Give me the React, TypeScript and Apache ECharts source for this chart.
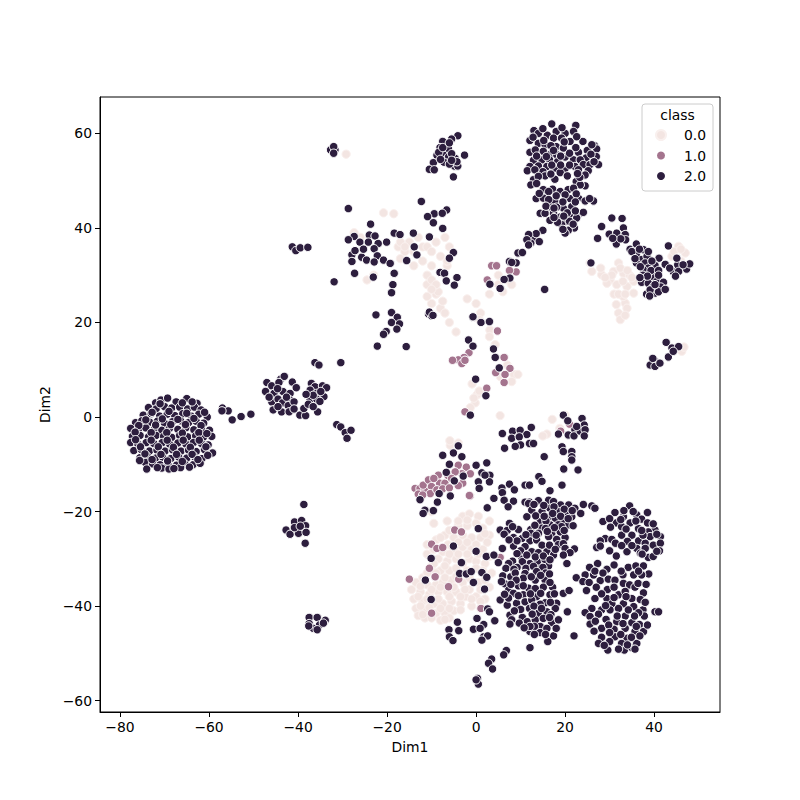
import React, { useEffect, useRef } from "react";
import * as echarts from "echarts";

const xTicks = [-80, -60, -40, -20, 0, 20, 40];
const yTicks = [-60, -40, -20, 0, 20, 40, 60];

const class0: [number, number][] = [
  [-29.2,55.6],[-20.8,43.2],[-18.5,43],[-27.4,39],[-26,38],[-17.5,36],[-16,35],[-17,33.5],[-15,37],[-13,38],[-12,36],[-14,32],[-9,37],[-7,38],[-6,36],[-6.5,32],[-8,30.5],[-12,33],[-11,28],[-9,26],[-10,24],[-8,23],[-6,20],[-8.5,26.5],[-11,25.5],[-23,30],[-24.5,29],[-6.5,33],[-4.5,18],[1,22],[-2,25],[0,24],
  [0.2,4.7],[-0.2,3],[-1.3,2],[-0.9,7],[0.7,5.5],[-0.5,4],[3.1,18.4],[3,17],[0.7,20.6],[4.3,15.3],[5,28],[6,26.5],[3,26],[7,29],[5,30],[8,28],
  [7,11],[8.5,9],[9.4,9],[8,7.5],[5.5,8.5],[5.4,0.3],[20,0.4],[17.1,-0.5],[15.9,-3.6],[18.8,-2.4],[15,-4],[-5.8,-6],[-5.9,-5],[-4,-5.5],
  [-3,-21],[-1.5,-20.5],[0.5,-21],[-6.5,-22],[-4,-23],[-2,-23],[1.5,-23.5],[3,-22],[-7,-25],[-5,-25.5],[-3,-25],[-1,-25.5],[1,-25.5],[3,-25],[-9,-26],[-11,-27],[-7.5,-28.5],[-5,-28],[-3,-27.5],[-1,-28],[1.5,-28],[-11,-29],[-8.5,-30],[-6.5,-30.5],[-4.5,-30],[-1.5,-30],[0,-30.5],[2,-31],[-10,-31.5],[-8,-32.5],[-6,-32.5],[-4.5,-32],[0,-32],[3.5,-33],[-12,-34],[-13.5,-35],[-11,-35.5],[-9,-35.5],[-7.5,-35],[-5.5,-34.5],[-3,-35],[-1.5,-36.5],[0.5,-35],[3,-36],[-14.5,-36.5],[-12.5,-37],[-10.5,-37.5],[-8.5,-37],[-6.5,-37],[-4.5,-37],[-2.5,-38],[0,-38],[2,-38.5],[-14,-38.5],[-12,-39],[-9.5,-39.5],[-7.5,-39.5],[-5.5,-39],[-3.5,-39.5],[-1,-40],[1,-40.5],[-13.5,-40.5],[-11.5,-41],[-9,-41.5],[-7,-41.5],[-5,-41],[-13,-42],[-11.5,-42.5],[-8,-43],[-6,-42.5],[-9.5,-22.5],[-10,-20],
  [-4,-22],[-2,-21.8],[0,-22.5],[2,-24.7],[-6,-24],[-8,-25.5],[-4,-26.5],[-2,-26.5],[0,-27],[2.5,-26.5],[-9.5,-28],[-6.3,-27],[-2,-29],[-6,-29],[-4,-29],[0.5,-29],[3,-29.5],[-9.5,-31],[-7,-31.5],[-3,-31],[-2,-32.5],[1.5,-32.5],[-11,-33],[-9,-33],[-7,-34],[-4.5,-33.8],[-1.5,-34],[2,-34.5],[-12.5,-35.8],[-10,-36.5],[-8,-36],[-5,-36],[-2.5,-36.5],[1,-36.5],[-13,-38],[-11,-38.5],[-8.5,-38.5],[-6,-38],[-3.5,-38],[-1,-38.5],[1,-39],[-12.5,-40],[-10.5,-40.3],[-8,-40.5],[-6,-40.5],[-3.5,-40.8],[-12,-41.8],[-10,-42.5],[-7,-42.8],
  [-17,37],[-16,36],[-14,35],[-11,36],[-10,35],[-8,34],[-10,32],[-11,30],[-10,29],[-9,28],[-7.5,24.5],[-7,22],[-10,27],
  [25.6,32.6],[26,30.8],[32,32.6],[30.1,29],[33.1,30.4],[33.9,27.6],[35.4,26.2],[31.6,28],[29.4,28.3],[33.5,24.1],[32,22],[32.4,20.6],[33.9,23],[45.5,36.1],[47,34.7],[28.2,30.1],[30.9,30.8],[32.4,31.5],[35.4,28.7],[46.2,13.9],[46.7,14.8],[34.5,30],[31,26],[33,25.5],[44,34],[46,33],
  [34,31],[35,29.5],[33,28.7],[30.5,30],[32,26],[33.5,26],[33.5,21.5],[31.5,23.8],[44.5,35],[46,35.5],[28,31.5],[29,29.5],
];

const class1: [number, number][] = [
  [3.5,32],[4.6,32],[9,30.7],[7.5,31],[2.5,29],
  [-1.6,13.6],[-2.7,12.6],[-4,12.1],[-5.3,12],[-3.2,11.3],[-2.5,12],[2.4,6.1],[-2.5,1.1],[4.8,18.2],[6.3,12.6],[7.6,10.3],[4.4,9.4],[6.3,7.3],[6.5,9],
  [-13.7,-15.1],[-12.6,-15.1],[-11.5,-15.4],[-11.9,-14.4],[-10.7,-13.3],[-10,-14.7],[-10.3,-16.2],[-8.5,-12.3],[-8.2,-14],[-8.8,-15.4],[-7,-14],[-6.3,-12.4],[-4,-10.2],[-2.2,-10.6],[-3.2,-12],[-1.3,-12],[-4.7,-11.6],[-1.3,-16.7],[-3,-14],[-13,-16.3],[-12,-16.5],[-9.5,-13],[-7.5,-15.2],[-5.5,-13],[-4,-14.5],[-6,-15],
  [-4.8,-23.9],[-3.3,-24.3],[-10,-26.9],[-8.8,-27.8],[-7.5,-27.6],[-10.5,-32],[-15,-34.3],[-9.2,-33.8],[-10,-41.5],[-1.5,-16.6],[-3.9,-34.3],[-6.2,-35.9],[1.1,-40.5],[5.4,-29.7],[21,-1.5],[19,-3],
];

const class2: [number, number][] = [
  // far-left cluster
  [-72,3],[-70.8,3.6],[-69.3,4],[-67.4,3.2],[-65,3.9],[-62.7,2.9],
  [-73.6,2],[-71.9,1.7],[-70,2.2],[-68.4,1.9],[-66.6,2.1],[-64.8,1.7],[-63.3,2.1],[-61.8,1.5],
  [-74.8,0.4],[-73,0.7],[-71.1,0.2],[-69.4,0.6],[-67.7,0.3],[-65.9,0.7],[-64,0.2],[-62.3,0.6],[-60.4,0],
  [-76.5,-1.2],[-75.1,-0.8],[-73.3,-1.1],[-71.6,-0.9],[-70,-1.3],[-68.2,-1],[-66.4,-0.8],[-64.6,-1.2],[-62.9,-0.9],[-61.2,-1.3],
  [-77.6,-2.4],[-75.9,-2.7],[-74.2,-2.3],[-72.3,-2.6],[-70.6,-2.8],[-68.9,-2.4],[-67,-2.6],[-65.2,-2.3],[-63.4,-2.7],[-61.7,-2.5],[-59.9,-2.8],
  [-77.2,-4.1],[-75.5,-3.9],[-73.6,-4.2],[-71.9,-3.9],[-70.2,-4.1],[-68.4,-4.3],[-66.6,-3.9],[-64.8,-4.2],[-63,-4],[-61.2,-4.2],[-59.4,-4.1],
  [-77.6,-5.4],[-76,-5.7],[-74.1,-5.4],[-72.4,-5.6],[-70.5,-5.4],[-68.8,-5.8],[-67,-5.5],[-65.2,-5.7],[-63.5,-5.4],[-61.7,-5.6],[-60.2,-5.9],
  [-76.9,-7.1],[-75.2,-6.9],[-73.4,-7.2],[-71.7,-7],[-69.9,-7.2],[-68.2,-6.9],[-66.3,-7.2],[-64.6,-7],[-62.9,-7.3],[-61,-6.9],[-59.2,-7.6],
  [-75.5,-8.6],[-73.8,-8.4],[-72,-8.7],[-70.4,-8.5],[-68.6,-8.8],[-66.8,-8.5],[-65,-8.7],[-63.3,-8.4],[-61.6,-8.8],
  [-74.3,-9.6],[-72.7,-9.9],[-71,-10.1],[-69.2,-10],[-67.3,-10.2],[-65.4,-10],[-63.6,-10.1],[-62,-9.8],
  [-74,-11],[-70.6,-10.8],[-69,-11],[-66.4,-10.7],
  [-71,2.8],[-66,3],[-63.8,3.2],[-72.8,1],[-69,1.2],[-65,0.8],[-61,1],[-74.2,-0.6],[-70.5,-0.4],[-67,-0.5],[-63.4,-0.3],[-75.8,-1.8],[-72,-1.7],[-68.6,-1.6],[-65.3,-1.6],[-61.8,-1.8],[-76.6,-3.2],[-73,-3.3],[-69.5,-3.3],[-66,-3.4],[-62.3,-3.3],[-60.5,-3.5],[-76.5,-4.8],[-73,-4.9],[-69.4,-4.9],[-65.8,-4.9],[-62.2,-4.9],[-75.4,-6.3],[-71.4,-6.3],[-68,-6.4],[-64.2,-6.4],[-60.7,-6.3],[-74.4,-7.8],[-70.8,-7.9],[-67.3,-7.9],[-63.8,-7.9],[-60.3,-8.1],[-72.8,-9],[-69.3,-9.3],[-66,-9.4],[-62.5,-9],[-75.6,-9.2],[-71.6,-10.7],[-67.9,-10.9],[-64.4,-10.6],
  // left small groups
  [-57,1.9],[-55.7,1.3],[-57.1,1.3],[-54.8,-0.6],[-52.8,0.1],[-50.6,0.6],
  [-47,7.3],[-45.9,6.6],[-47.3,5.4],[-43.9,8],[-43.1,8.6],[-44.3,7.3],[-41.3,7.4],[-40.4,6.2],[-45.4,5],[-43.4,5.4],[-41.8,5],[-45.9,3.2],[-44.5,3.8],[-43.5,3],[-41.8,3.6],[-42.2,2.4],[-40.9,3.2],[-45.6,1.5],[-43.7,1.1],[-42,1.1],[-40.9,1.7],[-39.6,0.4],[-38.3,0.3],[-38.7,1.8],[-35.6,1.1],[-37,7.1],[-36.2,6.4],[-34.5,6.6],[-33.6,6.2],[-37.3,5.7],[-35.8,5],[-34.2,4.3],[-37.3,3.6],[-35.8,3.8],[-37.7,2.7],[-36.6,2.2],[-35.1,3.3],
  [-44.6,6],[-42.6,4.2],[-44.5,2.2],[-46.5,4.2],[-36.6,4.6],[-34.9,5.4],[-38.2,4.8],
  [-36.2,11.5],[-35.3,11],[-30.4,11.5],[-31.3,-1.6],[-30.4,-2.1],[-29.4,-3.3],[-28.1,-2.8],[-29,-4.5],
  [-38.7,-18.5],[-40.8,-22.2],[-39.2,-21.9],[-38.3,-23],[-42.7,-23.9],[-41.8,-24.8],[-39.9,-24.6],[-38.2,-24.4],[-40.8,-23.4],[-39.5,-23.1],[-38.4,-26.7],
  [-37.5,-42.4],[-35.7,-42.4],[-33.9,-43],[-37.5,-43.7],[-35.2,-44],[-36.6,-44.7],[-37.6,-44.2],[-35.7,-45],[-34.3,-43.6],
  // upper middle
  [-32.7,56.5],[-31.7,56.5],[-32,57.2],[-32,55.8],
  [-7.5,58.3],[-4.1,59.5],[-5.5,58.8],[-8.1,57],[-6.2,56.7],[-8.8,55.4],[-7.3,55.4],[-4.7,54.7],[-6.2,55],[-2.6,55.4],[-9.6,53.8],[-7.2,53.9],[-10.5,52.4],[-9.4,52.3],[-4.9,53.1],[-4.1,53.1],[-5.1,50.8],[-8.4,56],[-5.5,55.7],[-4.3,54],[-7.5,57],[-6,58],[-8,54.5],[-6,53.5],[-5.5,54.3],
  [-12.3,45.6],[-28.7,44.1],[-6.6,43.8],[-9.4,43],[-10.9,42.4],[-7.6,43.1],[-9.6,41.1],[-7.5,39.9],[-10.5,38.1],[-23.7,40.8],[-14.1,38.9],[-18.4,38.9],[-17.1,38.6],[-27.4,38.2],[-28.7,37.5],
  [-41.3,36],[-40.5,35.2],[-39.5,35.8],[-37.8,35.9],
  [-24,38.5],[-22.7,38.3],[-26.1,37],[-24.2,37],[-22,36.7],[-20.1,37],[-22.9,35.6],[-27.9,34.3],[-25.7,33.8],[-27.9,32.9],[-24.6,33.2],[-22.2,34.1],[-20.8,33.2],[-22.9,32.8],[-19.3,32.5],[-27.2,35.2],[-25.3,35.5],
  [-13.9,36],[-13.3,34.3],[-15.6,33.1],[-5.1,34.8],[-6,33.6],[-27.3,30.4],[-23.1,29.6],[-18.4,30.4],[-31.9,28.6],[-18.7,28],[-19,26.3],[-8.1,30.6],[-7.1,30.4],[-4.3,29.5],[-6.7,28.8],[-4.9,27.9],
  [-22.5,21.6],[-19,22.1],[-17.7,21.1],[-19,20],[-17.2,19.7],[-17.8,18.6],[-20.2,18.1],[-20.8,17.5],[-22.2,15],[-15.7,14.9],
  [-10.7,21.8],[-10,21.4],[-10.5,22.2],[-9.7,21.5],[-0.7,21.1],
  // centre
  [7.5,32.9],[9,32.6],[7.6,29.4],[6.3,29.1],[5.4,27.2],[3.1,28.1],[9.4,34.7],
  [-1.7,16.3],[-0.7,15],[-0.1,8],[2.2,4.5],[-1.3,0.4],[-0.7,21.2],[1.1,20],[3,20.2],[3.9,14.4],[4.3,12.6],[5.2,10.4],
  [5.9,-3.5],[8.2,-3],[9.9,-2.8],[12.4,-2.2],[11.4,-3.7],[8,-4.5],[9.7,-4.2],[10,-5.9],[8.8,-6.2],[6.4,-6.6],[12,-5.6],[12.9,-5.6],
  [18.5,-3.6],[19.6,0.4],[20.6,-0.8],[23.8,-0.3],[24.3,-1.7],[22.2,-2.7],[20.7,-3.8],[22,-4],[23.4,-3],[24.5,-2.7],[24.3,-4],[22.6,-2],
  [19.3,-6.3],[19.6,-7.3],[21.5,-7.3],[21.5,-8.4],[21.5,-9.1],[15.3,-8.4],[19.7,-11],[22.9,-11.2],
  [-6.7,-11.7],[-4.9,-13.5],[-2.9,-12.5],[-6,-10],[-5.1,-7.6],[-4,-6.1],[-7.5,-8.1],[-3.2,-8.4],[-8.3,-16.2],[-8.7,-18],[-12.6,-17.5],[-11.5,-19.7],[-9.6,-19.8],[-5.8,-16.7],[-11.9,-20.4],
  [0,-10.2],[2.4,-9.7],[1.3,-11.8],[3.1,-12.3],[0.5,-13.7],[3,-13.7],[0.7,-15.1],[2,-12.3],
  [4,-17.2],[2.5,-19.2],[5.8,-15],[7.5,-14.2],[8.6,-15.4],[5.9,-16],[6.3,-17.6],[8.4,-17.8],[7.2,-19],[11,-14.4],[12,-14.4],[14.1,-12.6],[14.8,-13.6],[16.6,-15.6],[19.3,-14.4],[11,-18],[12,-18],
  // cluster A
  [14,-17.7],[16.3,-17.6],[17.4,-17.9],[19,-18.6],[20.8,-18.6],[22.2,-19.3],[24.1,-18.5],[26,-18.8],[26.7,-19.3],[23.5,-20.4],[11.8,-18.3],[12.5,-19.7],[11.4,-21.1],[14.8,-20],[16.6,-19.3],[18.5,-20],[20.2,-20.4],[21.5,-21.1],[14.4,-22.1],[16.3,-21.2],[17.8,-21.4],[19.6,-21.8],[20.8,-22.8],[16.6,-22.8],[18.5,-22.8],[14.8,-23.5],[17,-24.6],[18.9,-24.3],[20,-25.5],[18.1,-25.9],[19.2,-23.2],[12.3,-23.8],[15.7,-22],
  [15.2,-18.7],[13,-18.5],[17.5,-19],[19.8,-19.5],[21.6,-19.8],[13.4,-20.9],[15.3,-21],[17.2,-20.4],[19,-21],[20.7,-21.5],[13.2,-22.9],[15.6,-23.6],[17.6,-23.4],[19.8,-24],[21.8,-23],[16.3,-25.3],[14,-24.6],[18.5,-27],[19.6,-26.8],[16,-24.2],
  // cluster B
  [7.5,-22.5],[5.4,-23.9],[7,-24],[9.5,-23.8],[8.4,-25.5],[10.3,-25.7],[12.3,-24.6],[12.1,-26.2],[13.6,-26],[14.8,-27.1],[8.4,-27.3],[11,-27.4],[12.5,-28.5],[14,-28.7],[15.9,-28.5],[16.5,-27.1],[17.4,-29.2],[10.3,-29.7],[12.1,-31],[8.2,-30.5],[10.4,-30.6],[13.8,-30.6],[15.5,-30.2],[16.3,-31.5],[14,-32.2],[20,-27.8],[22.1,-27.9],[21.1,-28.7],[19.6,-29.2],[20.4,-31],
  [6.3,-24.8],[8.2,-23.2],[9.2,-26.2],[7.4,-26],[11.2,-24.9],[13.5,-25],[10,-28.3],[9.2,-28.9],[11.4,-29.2],[13.3,-29.6],[15.1,-29.4],[16.6,-30.2],[11.2,-32],[12.9,-31.6],[15,-31.8],[9.2,-31.8],[7.3,-31],[17.8,-28],[15.6,-33],
  // cluster C
  [6.7,-32],[8.5,-32.2],[6,-33.6],[7.8,-33.8],[11,-33.1],[13.6,-32.7],[10.6,-34.1],[6.5,-35.3],[9.5,-35.7],[13.3,-34.5],[15.5,-34.5],[11.8,-36.2],[15.1,-36],[17.2,-36],[7.3,-36.6],[8.4,-37.3],[13.6,-38],[10.6,-37.6],[16.6,-37.6],[5.4,-38.7],[7,-39.8],[9.1,-39.4],[11,-39.1],[12.5,-38.7],[15.5,-39.3],[18.1,-39.4],[17.8,-40.5],[14,-41.5],[12,-40.5],[10.4,-42.4],[15.9,-41.2],[11.5,-43.3],[13.3,-42.9],[15.1,-42.6],[17,-43.5],[18.5,-42.9],[12.1,-45.4],[14.4,-44.3],[14.4,-45.6],[15.9,-44.7],[17.4,-46.3],[16.1,-47.5],[12.1,-48.8],[13.1,-44.3],[7.6,-41.9],[8,-42.9],[7.6,-43.8],[4.1,-43.1],[20.5,-41.2],[22,-46.3],[19.6,-37.3],[20.9,-36.7],
  [5.7,-34.8],[8.8,-33],[12.4,-33.8],[14.5,-33.5],[16.5,-33.2],[9,-34.5],[7.8,-35.4],[10.6,-35.7],[13.3,-36.3],[16.6,-35],[12.2,-37.4],[14.5,-37.3],[9.5,-37.8],[17.6,-37.4],[7.3,-38.3],[6.4,-37.5],[14.4,-39.6],[16.7,-39.2],[10,-40.7],[13,-40],[8.6,-41],[16.8,-41.8],[14.7,-40.5],[12.6,-41.7],[12.1,-44.3],[9.7,-43.6],[10.8,-44.6],[13.1,-46],[16.5,-42.4],[15.6,-46],[18,-44.7],
  // cluster D
  [34.5,-18.8],[31.2,-20.2],[38.5,-20.2],[33.1,-21.1],[36.1,-20.7],[37.2,-21.6],[28.5,-22.1],[31.5,-22.4],[34.6,-22.4],[32.7,-23.2],[36.5,-23.6],[35,-25],[32.7,-25],[40.2,-23.9],[38.7,-24.3],[41.4,-25.3],[39.1,-25.3],[29,-25.7],[30.5,-25.9],[36.5,-26.2],[27.9,-26.2],[27.1,-27.6],[27.9,-27.3],[30,-28.3],[38,-26.7],[39.8,-27.1],[41.4,-26.7],[41.2,-28.3],[36.1,-27.8],[33.9,-28.5],[31.5,-29.4],[36.9,-28.8],[38.7,-29.7],[39.8,-29.5],[38,-27.8],
  [33.2,-19.8],[35.3,-20],[30,-21.5],[32.5,-21.7],[35.9,-22],[38.5,-22.4],[30.2,-23.3],[33.7,-23.7],[37.5,-25],[34,-26.3],[31.3,-26.7],[37.2,-24],[39.8,-22.6],[40.6,-24.8],[35,-27.2],[37.3,-29],[32.7,-27.2],[40.6,-28.4],
  // cluster E
  [27.3,-31],[25.5,-31.8],[29.4,-32.2],[31,-31.3],[34.2,-31.8],[35.9,-31.5],[37.6,-31.5],[38.8,-33.2],[37.2,-33.4],[22.5,-34],[24.5,-33.4],[26.4,-33.4],[24,-34.8],[25.4,-35],[27.9,-34.6],[29.7,-34.3],[31.2,-34.5],[33,-33.4],[35.4,-33.4],[33.1,-35.2],[34.5,-35.5],[35.7,-36],[29.5,-36.5],[32,-37.6],[37.6,-37.2],[26.7,-38.4],[29.4,-38.4],[35,-38.4],[36.9,-38.6],[33.1,-39.5],[30.5,-39.5],[28.2,-40.8],[26,-40.5],[24.5,-41.4],[25.6,-42.2],[30.1,-40.8],[32,-40.5],[35.4,-40.1],[37.5,-40.8],[37.8,-42.1],[29.2,-42.8],[33.5,-42.1],[25.6,-43.8],[28.2,-44.7],[31.6,-43.3],[35,-43.5],[36.7,-43.9],[37.6,-45.4],[31,-44.9],[35.7,-45.4],[33.5,-44.7],[28.2,-46.6],[27.5,-47.9],[31.2,-46.5],[33.9,-46.8],[32.7,-47.9],[29.6,-49.3],[33.3,-49.3],[32,-49.1],[35,-48.8],[36.1,-47.9],[35.7,-49.1],[40.2,-41.2],[41,-41.2],
  [26.7,-32.6],[28.5,-33],[32.6,-32.6],[36.5,-32.6],[27,-36],[24.8,-36.7],[31,-36],[33.5,-36.9],[36.4,-35.2],[38.2,-35.4],[28.2,-37.4],[31,-38.2],[33.7,-38],[38,-39.2],[29.1,-39.9],[34.2,-40.8],[36.5,-41.4],[27.5,-41.7],[31.7,-42.1],[35.6,-42.1],[26.8,-43.2],[29.8,-44],[33,-43.7],[38.5,-44],[36,-44.3],[30,-45.6],[26.5,-45.3],[34.9,-46.6],[32.5,-46],[30,-47.5],[36.8,-46.3],[28.8,-48.3],[34,-48.2],
  // lower left
  [0.5,-23.6],[0,-28.4],[-10.1,-29.9],[-3.3,-30.8],[2.3,-29.5],[4,-29.2],[5,-30.8],[5.9,-27.8],[-3.7,-33.1],[-2.2,-33.2],[-1.1,-32.7],[1.3,-32.9],[2.4,-33.9],[-0.6,-35],[1.9,-36.4],[-10.1,-38.6],[-11.4,-34.5],[-5.1,-27.3],[2.6,-40.6],[3,-41.2],[4.2,-43.1],[0.2,-42.6],[1.7,-43.9],[-0.6,-44.9],[0.9,-44.7],[1.7,-46.5],[2.6,-46.3],[1.3,-47.2],[-4.2,-43.4],[-6.1,-45],[-3.9,-45.2],[-6,-46.5],[-5.2,-47.3],[6.8,-49.4],[6.2,-50.3],[3.5,-51.2],[2.8,-52.1],[3.7,-53.3],[0.3,-55.3],[0.5,-56.5],[0,-55.6],
  // upper right top
  [17,62],[22.4,61.7],[13,60.6],[14,60],[18,60.4],[20,60],[21.9,60.4],[16,59.6],[17.4,59],[12.1,58.5],[14,57.9],[15.5,57.6],[19.2,59],[21.1,58.3],[24,58.3],[26.6,57.4],[18,57.2],[12.1,56],[13.3,56.5],[15.1,56.2],[16.6,55.5],[18.1,55.5],[19.6,56.9],[23,56],[25,56.4],[27.1,56.7],[27,55.1],[24.7,54.8],[12.9,54.3],[14.8,54.4],[16.5,54.4],[18.3,54],[20,55],[21.9,54.4],[23.4,54.4],[27.5,53.4],[12.1,53],[14,53.1],[15.9,53],[20,52.6],[17.7,52.6],[22.2,53],[24.1,53.4],[25.6,53.4],[11.5,52.1],[15,51.9],[18.9,51.7],[25.2,52.1],[24.5,51.2],[12.9,50.2],[15.5,51],[17.7,50.3],[22.5,49.8],[12.3,49.1],[24.5,48.9],[23.4,49.1],
  [15,61],[19.3,61.2],[12.8,59.2],[15.2,58.5],[19.8,58.2],[22.6,59.3],[16.8,57.4],[13.6,55.2],[15.8,55.1],[17.4,56.4],[19,55.2],[21,55.8],[22.4,57],[25.8,55.6],[26,57.6],[13.2,52.3],[17,53.3],[19,53.3],[21,53.3],[23,52.3],[26.5,54],[14,50.9],[16.8,51.4],[20.5,51],[23.3,50.7],[22.8,51.5],[13.6,49.4],
  [15.1,48.1],[17.2,48.2],[18.9,47.7],[20.7,48.1],[21.9,48.4],[16.3,47.7],[13.5,46.2],[15.1,46.3],[17.7,45.6],[21.1,46.2],[23,46.3],[24.5,45.7],[26.4,45.7],[16.5,44.5],[19.6,44.2],[21.5,44.5],[18.1,44.4],[14.4,43.1],[15.5,43.1],[17.4,43.1],[21.1,42.9],[23,42.8],[24.1,43.3],[16.6,41.6],[18.9,42.3],[20,41.4],[22.6,42.1],[21,41.4],[22.1,40],[20.7,39.5],[20,38.9],[19.2,40.7],
  [14.2,47.3],[18,46.8],[20,47],[22.5,47.2],[16.3,46],[19.5,45.5],[22.3,45.5],[25.5,46.2],[15.7,44.6],[17.5,44.2],[20.5,43.2],[22.3,43.6],[18.3,41.2],[17.5,42.2],[19.7,42.5],[21.8,40.8],[19.5,39.7],[13,37.8],
  [15,39.5],[13.5,38.8],[11.8,38.6],[14.2,37.1],[12.3,36.8],[11.4,37.5],[11.8,36.4],[10.4,34.8],[8,32.7],[15.4,27],[25.8,32.6],
  // right streak
  [30.5,42.1],[32.8,42],[28.2,40.3],[33.1,40],[27.3,37.8],[29.9,38.7],[31.6,38.9],[33.5,38.6],[31.5,36.6],[33.6,37.5],[34.6,35.5],[36,36.6],[37.6,35.4],[36,34.2],[37.2,33.3],[38.4,34],[41.1,33.6],[43.2,36.2],[36,32.6],[38,32.6],[40.2,32.1],[42.5,32.3],[38.7,31.5],[37.6,31.1],[44.3,30.7],[45.3,32.2],[45.5,30.8],[47.3,31.3],[48,32.4],[45.1,33.6],[39.8,29.7],[37.2,28.5],[38.7,28.3],[40.6,28.7],[42.1,28.5],[39.8,27.6],[41.5,27.5],[38.3,26],[40.2,26.2],[39.1,26.9],
  [35,35],[36.7,35.5],[38.7,35],[39.5,33],[37.5,30],[39.3,31],[41,31],[38.5,29.8],[36.8,29.5],[41,30],[41,26.5],[39,25.6],[43.5,31.5],[46.5,32.2],[44.8,29.8],[32.5,37.7],[30.7,37.8],[36.9,31.8],[35.7,33.5],[40.2,28],[42.5,27],
  // bottom right of upper panel
  [42.7,15.8],[44,14.6],[45.5,14.9],[43.2,12.7],[44.3,13.9],[40.2,11.8],[39.1,11],[40.2,10.7],[41.3,11.4],[39.7,12.4],
];

const fontFamily = "'DejaVu Sans', sans-serif";
const minusLabel = (v: number) => String(v).replace("-", "\u2212");

const scatter = (name: string, data: [number, number][], color: string, edge: string) => ({
  name,
  type: "scatter",
  data,
  symbol: "circle",
  symbolSize: 8.4,
  itemStyle: { color, opacity: 1, borderColor: edge, borderWidth: 1 },
});

export default function App() {
  const ref = useRef<HTMLDivElement>(null);
  useEffect(() => {
    const chart = echarts.init(ref.current!, undefined, { renderer: "svg" });
    const axisCommon = {
      type: "value",
      nameLocation: "middle",
      nameTextStyle: { color: "#000", fontSize: 13.9, fontFamily },
      splitLine: { show: false },
      axisLine: { show: true, onZero: false, lineStyle: { color: "#000", width: 1 } },
    };
    chart.setOption({
      animation: false,
      backgroundColor: "#fff",
      grid: { left: 100, top: 97, width: 620, height: 615, show: true, borderColor: "#000", borderWidth: 1, backgroundColor: "transparent" },
      xAxis: {
        ...axisCommon,
        name: "Dim1",
        nameGap: 28,
        min: -84.5,
        max: 54.8,
        axisTick: { show: true, length: 5, customValues: xTicks, lineStyle: { color: "#000" } },
        axisLabel: { customValues: xTicks, formatter: minusLabel, color: "#000", fontSize: 13.9, fontFamily, margin: 8 },
      },
      yAxis: {
        ...axisCommon,
        name: "Dim2",
        nameGap: 39,
        min: -62.4,
        max: 67.7,
        axisTick: { show: true, length: 5, customValues: yTicks, lineStyle: { color: "#000" } },
        axisLabel: { customValues: yTicks, formatter: minusLabel, color: "#000", fontSize: 13.9, fontFamily, margin: 8 },
      },
      legend: {
        orient: "vertical",
        left: 655,
        top: 128,
        padding: 0,
        itemWidth: 10,
        itemHeight: 10,
        itemGap: 6.5,
        z: 20,
        textStyle: { color: "#000", fontSize: 13.9, fontFamily, padding: [0, 0, 0, 13] },
        data: ["0.0", "1.0", "2.0"],
      },
      graphic: [
        { type: "rect", z: 10, shape: { x: 642, y: 104, width: 71, height: 87, r: 3 }, style: { fill: "rgba(255,255,255,0.8)", stroke: "#cccccc", lineWidth: 1 } },
        { type: "text", z: 11, x: 677.5, y: 115, style: { text: "class", fill: "#000", font: `13.9px ${fontFamily}`, align: "center", verticalAlign: "middle" } },
      ],
      series: [
        scatter("0.0", class0, "#f3e5e2", "#f9f0ee"),
        scatter("1.0", class1, "#a4748e", "#ffffff"),
        scatter("2.0", class2, "#2d1e3e", "#ffffff"),
      ],
    });
    return () => chart.dispose();
  }, []);
  return <div ref={ref} style={{ position: "absolute", left: 0, top: 0, width: 800, height: 800 }} />;
}
